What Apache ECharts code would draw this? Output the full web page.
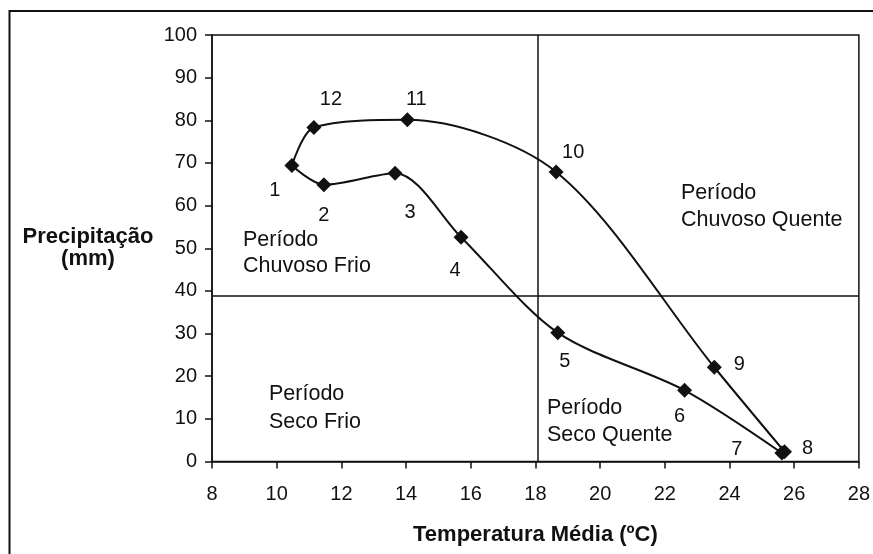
<!DOCTYPE html>
<html>
<head>
<meta charset="utf-8">
<script src="https://cdn.jsdelivr.net/npm/echarts@6/dist/echarts.min.js"></script>
<style>
html,body{margin:0;padding:0;background:#fff;}
#chart{width:873px;height:554px;}
</style>
</head>
<body>
<div id="chart"></div>
<script>
// Data (months 1..12)
var months = ['1','2','3','4','5','6','7','8','9','10','11','12'];
var temperature = [10.47, 11.46, 13.66, 15.70, 18.69, 22.61, 25.62, 25.70, 23.53, 18.64, 14.04, 11.15];
var precipitation = [69.4, 64.9, 67.6, 52.6, 30.2, 16.7, 2.0, 2.3, 22.1, 67.9, 80.1, 78.3];
var tempDivider = 18.08;
var precipDivider = 38.8;
var xTicks = {min: 8, max: 28, step: 2};
var yTicks = {min: 0, max: 100, step: 10};
var quadrantTexts = ['Período\nChuvoso Frio', 'Período\nChuvoso Quente', 'Período\nSeco Frio', 'Período\nSeco Quente'];

// Style: label offsets (px) for each month label
var labelOffsets = [[-17,25],[0,31],[15,39],[-6,33],[7,29],[-5,26],[-45,-3],[23,-3],[25,-3],[17,-19],[9,-20],[17,-28]];
var quadrantPos = [[243,227],[681,180],[269,380],[547,395]];

var FONT = '"Liberation Sans", Arial, sans-serif';
var INK = '#111';
var pairs = [];
for (var i = 0; i < temperature.length; i++) pairs.push([temperature[i], precipitation[i]]);
// Loop split in three pieces: months 1-7 (dry-season descent), 7-8 joint, 8-12 back to 1
var pathA = pairs.slice(0, 7);
var pathJoint = pairs.slice(6, 8);
var pathB = pairs.slice(7).concat([pairs[0]]);

var pts = [];
for (var j = 0; j < months.length; j++) {
  pts.push({
    value: pairs[j],
    name: months[j],
    label: {show: true, position: 'inside', offset: labelOffsets[j], formatter: months[j],
            color: INK, textBorderWidth: 0, textBorderColor: 'transparent', fontSize: 20, fontFamily: FONT}
  });
}

function curve(data, smooth) {
  return {type: 'line', data: data, smooth: smooth, showSymbol: false, symbol: 'none',
          lineStyle: {color: INK, width: 2}, z: 3};
}

var seriesA = curve(pathA, 0.3);
seriesA.markLine = {
  silent: true,
  symbol: ['none', 'none'],
  label: {show: false},
  lineStyle: {color: INK, width: 1.5, type: 'solid'},
  data: [{xAxis: tempDivider}, {yAxis: precipDivider}]
};

var chart = echarts.init(document.getElementById('chart'), null, {renderer: 'canvas'});
chart.setOption({
  backgroundColor: '#fff',
  animation: false,
  textStyle: {fontFamily: FONT},
  grid: {left: 212, top: 35, width: 653, height: 426.5, show: true, borderColor: INK, borderWidth: 1.5, backgroundColor: 'transparent'},
  xAxis: {
    type: 'value', min: xTicks.min, max: xTicks.max, interval: xTicks.step,
    name: 'Temperatura Média (ºC)', nameLocation: 'middle', nameGap: 62,
    nameTextStyle: {fontFamily: FONT, fontSize: 22, fontWeight: 'bold', color: INK},
    axisLine: {lineStyle: {color: INK, width: 1.5}},
    axisTick: {show: true, length: 7, inside: false, lineStyle: {color: INK, width: 1.5}},
    axisLabel: {fontFamily: FONT, fontSize: 20, color: INK, margin: 23},
    splitLine: {show: false}
  },
  yAxis: {
    type: 'value', min: yTicks.min, max: yTicks.max, interval: yTicks.step,
    name: 'Precipitação\n(mm)', nameLocation: 'middle', nameRotate: 0, nameGap: 124,
    nameTextStyle: {fontFamily: FONT, fontSize: 22, fontWeight: 'bold', color: INK, align: 'center', lineHeight: 22, padding: [0, 0, 14, 0]},
    axisLine: {lineStyle: {color: INK, width: 1.5}},
    axisTick: {show: true, length: 7, inside: false, lineStyle: {color: INK, width: 1.5}},
    axisLabel: {fontFamily: FONT, fontSize: 20, color: INK, margin: 15},
    splitLine: {show: false}
  },
  series: [
    seriesA,
    curve(pathJoint, false),
    curve(pathB, 0.3),
    {
      type: 'scatter',
      data: pts,
      symbol: 'diamond',
      symbolSize: 15,
      itemStyle: {color: INK, opacity: 1},
      z: 4
    }
  ],
  graphic: [
    {type: 'rect', shape: {x: 9.5, y: 11, width: 900, height: 600}, style: {fill: 'none', stroke: INK, lineWidth: 2}, z: 10},
    {type: 'text', x: quadrantPos[0][0], y: quadrantPos[0][1], style: {text: quadrantTexts[0], font: '21.5px ' + FONT, lineHeight: 26, fill: INK}},
    {type: 'text', x: quadrantPos[1][0], y: quadrantPos[1][1], style: {text: quadrantTexts[1], font: '21.5px ' + FONT, lineHeight: 27, fill: INK}},
    {type: 'text', x: quadrantPos[2][0], y: quadrantPos[2][1], style: {text: quadrantTexts[2], font: '21.5px ' + FONT, lineHeight: 28, fill: INK}},
    {type: 'text', x: quadrantPos[3][0], y: quadrantPos[3][1], style: {text: quadrantTexts[3], font: '21.5px ' + FONT, lineHeight: 27, fill: INK}}
  ]
});
</script>
</body>
</html>
